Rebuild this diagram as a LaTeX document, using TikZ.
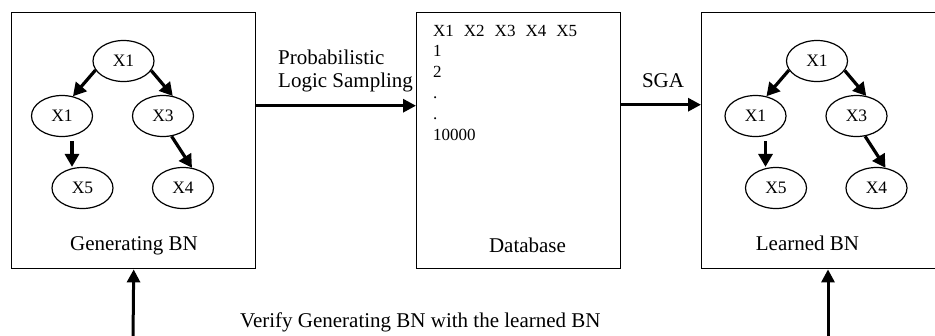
\documentclass[tikz,border=0pt]{standalone}
\usepackage{fontspec}
\setmainfont{Liberation Serif}
\usetikzlibrary{arrows.meta,shapes.geometric}
\begin{document}
\begin{tikzpicture}[x=1pt,y=-1pt,
  box/.style={draw, line width=1.4pt, inner sep=0pt, anchor=north west, minimum height=256pt},
  ell/.style={ellipse, draw, line width=1.2pt, minimum width=61pt, minimum height=41pt, inner sep=0pt, font=\fontsize{17.5}{20}\selectfont},
  bigarrow/.style={line width=3pt, -{Triangle[length=13pt,width=13pt]}},
  smallarrow/.style={line width=3.2pt, -{Triangle[length=13pt,width=14pt]}},
  lab/.style={font=\fontsize{21}{23}\selectfont, inner sep=0pt}]
\clip (0,0) rectangle (935,335);
% boxes
\node[box, minimum width=244pt] (box1) at (11,12) {};
\node[box, minimum width=204pt] (box2) at (416,12) {};
\node[box, minimum width=244pt] (box3) at (701,12) {};
% generating BN
\node[ell] (a1) at (123.5,61) {X1};
\node[ell] (a2) at (62,116) {X1};
\node[ell] (a3) at (163,116) {X3};
\node[ell] (a5) at (82.5,188) {X5};
\node[ell] (a4) at (183,188) {X4};
\draw[smallarrow] (a1.198) -- (a2.61);
\draw[smallarrow] (a1.341) -- (a3.64);
\draw[smallarrow] ([xshift=10pt,yshift=-4pt]a2.south) -- ([xshift=-10.5pt]a5.north);
\draw[smallarrow] (a3.293) -- (a4.66);
\node[lab, anchor=base] (t1) at (134,250) {Generating BN};
% learned BN
\node[ell] (b1) at (817,61) {X1};
\node[ell] (b2) at (755.5,116) {X1};
\node[ell] (b3) at (856.5,116) {X3};
\node[ell] (b5) at (776,188) {X5};
\node[ell] (b4) at (876.5,188) {X4};
\draw[smallarrow] (b1.198) -- (b2.61);
\draw[smallarrow] (b1.341) -- (b3.64);
\draw[smallarrow] ([xshift=10pt,yshift=-4pt]b2.south) -- ([xshift=-10.5pt]b5.north);
\draw[smallarrow] (b3.293) -- (b4.66);
\node[lab, anchor=base] (t3) at (807.5,250) {Learned BN};
% database
\node[inner sep=0pt, anchor=base west, font=\fontsize{17}{20.8}\selectfont] (db) at (433,36)
  {\begin{tabular}[t]{@{}l@{}}X1\hspace{10pt}X2\hspace{10pt}X3\hspace{10pt}X4\hspace{10pt}X5\\ 1\\ 2\\ .\\ .\\ 10000\end{tabular}};
\node[lab, anchor=base] (t2) at (527.5,252) {Database};
% connectors
\draw[bigarrow] ([yshift=35pt]box1.east) -- ([yshift=35pt]box2.west);
\draw[bigarrow] ([yshift=36pt]box2.east) -- ([yshift=36pt]box3.west);
\node[lab, anchor=base west] (pls) at (278,64)
  {\begin{tabular}[t]{@{}l@{}}Probabilistic\\ Logic Sampling\end{tabular}};
\node[lab, anchor=base] (sga) at (663,87) {SGA};
\coordinate (g1) at (133,340);
\coordinate (g2) at (828,340);
\draw[bigarrow] (g1) -- (box1.south);
\draw[bigarrow] (g2) -- (g2 |- box3.south);
\node[lab, anchor=base west] (vt) at (240,327) {Verify Generating BN with the learned BN};
\end{tikzpicture}
\end{document}
